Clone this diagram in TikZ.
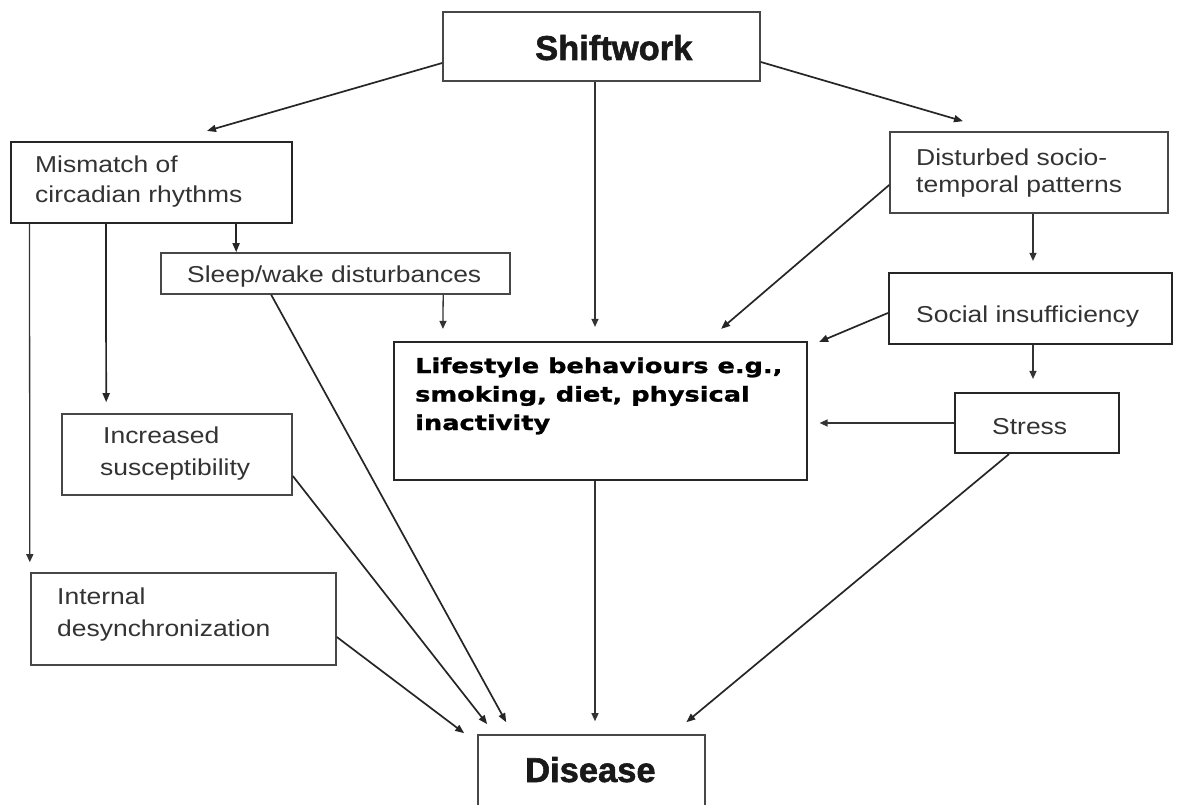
\documentclass[tikz,border=0pt]{standalone}
\usepackage{fontspec}
\setmainfont{Liberation Sans}
\newfontfamily\regf{Liberation Sans}[FakeStretch=1.15]
\newfontfamily\heavyf{Liberation Sans}[BoldFeatures={FakeBold=1.6}]
\newfontfamily\futf{DejaVu Sans}[BoldFeatures={FakeStretch=1.25,FakeBold=1.2}]
\usetikzlibrary{arrows.meta,calc,fit}
\begin{document}
\begin{tikzpicture}[x=1pt,y=-1pt,
  box/.style={draw=black!72,line width=1.6pt,inner sep=0pt},
  thick box/.style={draw=black!85,line width=2.2pt,inner sep=0pt},
  rt/.style={font=\regf\fontsize{23}{30}\selectfont,text=black!80,inner sep=0pt,anchor=base west,align=left},
  bt/.style={font=\heavyf\bfseries\fontsize{34.5}{40}\selectfont,text=black!90,inner sep=0pt,anchor=base west},
  lt/.style={font=\futf\bfseries\fontsize{20.5}{28.5}\selectfont,text=black,inner sep=0pt,anchor=base west,align=left},
  arr/.style={draw=black!80,line width=1.3pt,-{Triangle[length=8pt,width=7pt]}},
  darr/.style={draw=black!85,line width=1.7pt,-{Triangle[length=9pt,width=7pt]}}]
\useasboundingbox[fill=white] (0,0) rectangle (1187,805);
% boxes
\node[box,fit={(443,12) (760,81)}] (shift) {};
\node[thick box,fit={(11,142) (292,223)}] (mm) {};
\node[box,fit={(161,253) (510,294)}] (sleep) {};
\node[thick box,fit={(394,342) (807,480)}] (life) {};
\node[box,fit={(890,132) (1168,213)}] (dist) {};
\node[thick box,fit={(889,273) (1172,344)}] (soc) {};
\node[thick box,fit={(955,393) (1119,453)}] (stress) {};
\node[box,fit={(62,414) (292,495)}] (inc) {};
\node[box,fit={(31,573) (336,665)}] (intd) {};
\node[box,fit={(478,735) (705,812)}] (dis) {};
% texts
\node[bt] (tshift) at (535,60) {Shiftwork};
\node[bt] (tdis) at (525,782) {Disease};
\node[rt] (tmm) at (35,203) {Mismatch of\\circadian rhythms};
\node[rt] (tsleep) at (187,283) {Sleep/wake disturbances};
\node[rt] (tdist) at (916,193) {Disturbed socio-\\[-3pt]temporal patterns};
\node[rt] (tsoc) at (916,323) {Social insufficiency};
\node[rt] (tstress) at (992,434) {Stress};
\node[rt] (tinc) at (103,475) {Increased\\[2pt]\hspace*{-3pt}susceptibility};
\node[rt] (tintd) at (57,636) {Internal\\[2pt]desynchronization};
\node[lt] (tlife) at (415,430) {Lifestyle behaviours e.g.,\\smoking, diet, physical\\inactivity};
% connectors
\draw[darr] ($(shift.west)+(0,16.5)$) -- ($(mm.north)+(55.5,-10)$);
\draw[darr] ($(shift.east)+(0,15.5)$) -- ($(dist.north)+(-66,-10)$);
\draw[arr] ($(shift.south)+(-6.5,0)$) -- ($(life.north)+(-5.5,-14)$);
\draw[arr] ($(mm.south west)+(19.6,0)$) -- ($(intd.north west)+(-0.4,-10)$);
\draw[darr] ($(mm.south west)+(96,0)$) -- ($(inc.north west)+(45,-11)$);
\draw[darr] ($(mm.south west)+(226,0)$) -- ($(sleep.north west)+(76,0)$);
\draw[arr] ($(sleep.south west)+(283,0)$) -- ($(life.north west)+(50,-12)$);
\draw[darr] ($(sleep.south west)+(111,0)$) -- ($(dis.north west)+(29,-12)$);
\draw[darr] ($(inc.east)+(0,21.5)$) -- ($(dis.north west)+(10,-10)$);
\draw[darr] ($(intd.east)+(0,18)$) -- ($(dis.north west)+(-13,-1)$);
\draw[arr] ($(life.south)+(-5.5,0)$) -- ($(dis.north)+(3.5,-13)$);
\draw[darr] ($(stress.south)+(-28,0)$) -- ($(dis.north east)+(-19.5,-12)$);
\draw[arr,shorten >=11.5pt] (stress.west) -- (stress.west -| life.east);
\draw[darr] ($(dist.west)+(0,12.5)$) -- ($(life.north east)+(-87,-12)$);
\draw[darr] ($(soc.west)+(0,4.5)$) -- ($(life.north east)+(11,1)$);
\draw[arr] ($(dist.south)+(4,0)$) -- ($(soc.north)+(2.5,-11)$);
\draw[arr] ($(soc.south)+(2.5,0)$) -- ($(stress.north)+(-4,-13)$);
\end{tikzpicture}
\end{document}
